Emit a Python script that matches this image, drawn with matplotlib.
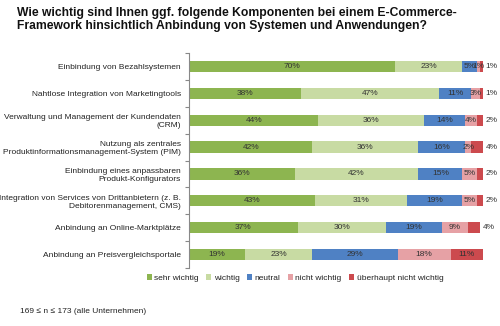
import matplotlib
matplotlib.use("Agg")
import matplotlib.pyplot as plt
from matplotlib.patches import Patch

plt.rcParams['font.family'] = ['Liberation Sans', 'DejaVu Sans']

categories = [
    "Einbindung von Bezahlsystemen",
    "Nahtlose Integration von Marketingtools",
    "Verwaltung und Management der Kundendaten\n(CRM)",
    "Nutzung als zentrales\nProduktinformationsmanagement-System (PIM)",
    "Einbindung eines anpassbaren\nProdukt-Konfigurators",
    "Integration von Services von Drittanbietern (z. B.\nDebitorenmanagement, CMS)",
    "Anbindung an Online-Marktplätze",
    "Anbindung an Preisvergleichsportale",
]
series_names = ["sehr wichtig", "wichtig", "neutral", "nicht wichtig",
                "überhaupt nicht wichtig"]
sehr_wichtig = [70, 38, 44, 42, 36, 43, 37, 19]
wichtig = [23, 47, 36, 36, 42, 31, 30, 23]
neutral = [5, 11, 14, 16, 15, 19, 19, 29]
nicht_wichtig = [1, 3, 4, 2, 5, 5, 9, 18]
ueberhaupt_nicht = [1, 1, 2, 4, 2, 2, 4, 11]

series = [sehr_wichtig, wichtig, neutral, nicht_wichtig, ueberhaupt_nicht]
colors = ["#8db550", "#c8dba3", "#4f81c4", "#e6a1a5", "#cc4a4e"]

fig = plt.figure(figsize=(5.0, 3.26), dpi=100)
ax = fig.add_axes([0.378, 0.178, 0.588, 0.659])

n = len(categories)
ys = list(range(n))
left = [0] * n
for si, (vals, col) in enumerate(zip(series, colors)):
    ax.barh(ys, vals, left=left, height=0.42, color=col, edgecolor='none')
    for i, v in enumerate(vals):
        if si == len(series) - 1 and v < 10:
            ax.text(left[i] + v + 0.8, i, f"{v}%", va='center', ha='left',
                    fontsize=6, color='#333333', clip_on=False)
        else:
            ax.text(left[i] + v / 2, i, f"{v}%", va='center', ha='center',
                    fontsize=6, color='#333333')
    left = [l + v for l, v in zip(left, vals)]

ax.set_xlim(0, 100)
ax.set_ylim(n - 0.5, -0.5)
ax.set_yticks(ys)
ax.set_yticklabels(categories, fontsize=6, color='#222222')
ax.tick_params(axis='y', length=0, pad=6)
ax.set_yticks([i - 0.5 for i in range(n + 1)], minor=True)
ax.tick_params(axis='y', which='minor', length=3, color='#888888', width=0.8)
ax.set_xticks([])
for s in ['top', 'right', 'bottom']:
    ax.spines[s].set_visible(False)
ax.spines['left'].set_color('#888888')
ax.spines['left'].set_linewidth(0.8)

handles = [Patch(facecolor=c, edgecolor='none', label=l)
           for c, l in zip(colors, series_names)]
fig.legend(handles=handles, loc='center', bbox_to_anchor=(0.59, 0.147),
           ncol=5, frameon=False, fontsize=6, handlelength=0.6,
           handleheight=0.6, handletextpad=0.3, columnspacing=0.9,
           labelcolor='#222222')

fig.text(0.034, 0.98,
         "Wie wichtig sind Ihnen ggf. folgende Komponenten bei einem E-Commerce-\n"
         "Framework hinsichtlich Anbindung von Systemen und Anwendungen?",
         ha='left', va='top', fontsize=8.7, fontweight='bold', color='#111111',
         linespacing=1.15)
fig.text(0.04, 0.046, "169 ≤ n ≤ 173 (alle Unternehmen)", ha='left',
         va='center', fontsize=6, color='#222222')

fig.savefig("out.png", dpi=100)
